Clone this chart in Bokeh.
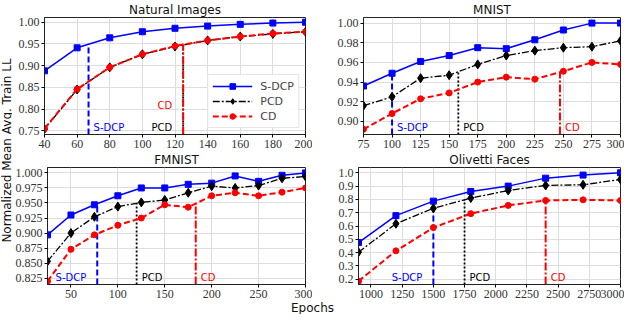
import numpy as np
from bokeh.plotting import figure
from bokeh.models import Range1d, FixedTicker, PrintfTickFormatter, Label, ColumnDataSource
from bokeh.layouts import row, column
from bokeh.embed import file_html
from bokeh.resources import INLINE
from bokeh.core.properties import value

methods = ["S-DCP", "PCD", "CD"]

# ---------------- data ----------------
nat_epochs = [40, 60, 80, 100, 120, 140, 160, 180, 200]
nat_sdcp = [0.888, 0.941, 0.964, 0.978, 0.986, 0.991, 0.995, 0.998, 1.000]
nat_pcd = [0.754, 0.845, 0.896, 0.926, 0.944, 0.958, 0.967, 0.973, 0.978]
nat_cd = [0.755, 0.846, 0.896, 0.926, 0.945, 0.958, 0.967, 0.974, 0.978]
nat_conv = [67, 125, 125]

mnist_epochs = [75, 100, 125, 150, 175, 200, 225, 250, 275, 300]
mnist_sdcp = [0.936, 0.949, 0.961, 0.967, 0.975, 0.974, 0.983, 0.993, 1.000, 1.000]
mnist_pcd = [0.916, 0.925, 0.944, 0.947, 0.958, 0.967, 0.972, 0.975, 0.976, 0.982]
mnist_cd = [0.892, 0.908, 0.923, 0.929, 0.940, 0.945, 0.943, 0.951, 0.960, 0.958]
mnist_conv = [100, 158, 247]

fmnist_epochs = [25, 50, 75, 100, 125, 150, 175, 200, 225, 250, 275, 300]
fmnist_sdcp = [0.897, 0.930, 0.947, 0.962, 0.975, 0.975, 0.981, 0.983, 0.995, 0.986, 0.996, 1.000]
fmnist_pcd = [0.853, 0.900, 0.927, 0.944, 0.951, 0.955, 0.967, 0.978, 0.975, 0.979, 0.991, 0.994]
fmnist_cd = [0.820, 0.873, 0.897, 0.913, 0.925, 0.947, 0.943, 0.962, 0.967, 0.962, 0.968, 0.975]
fmnist_conv = [78, 120, 183]

oli_epochs = [900, 1200, 1500, 1800, 2100, 2400, 2700, 3000]
oli_sdcp = [0.475, 0.678, 0.787, 0.860, 0.900, 0.960, 0.983, 1.000]
oli_pcd = [0.403, 0.617, 0.733, 0.810, 0.867, 0.905, 0.910, 0.950]
oli_cd = [0.185, 0.413, 0.588, 0.693, 0.755, 0.792, 0.797, 0.792]
oli_conv = [1500, 1750, 2400]

nat_xticks = [40, 60, 80, 100, 120, 140, 160, 180, 200]
nat_yticks = [0.75, 0.80, 0.85, 0.90, 0.95, 1.00]
mnist_xticks = [75, 100, 125, 150, 175, 200, 225, 250, 275, 300]
mnist_yticks = [0.90, 0.92, 0.94, 0.96, 0.98, 1.00]
fmnist_xticks = [50, 100, 150, 200, 250, 300]
fmnist_yticks = [0.825, 0.850, 0.875, 0.900, 0.925, 0.950, 0.975, 1.000]
oli_xticks = [1000, 1250, 1500, 1750, 2000, 2250, 2500, 2750, 3000]
oli_yticks = [0.2, 0.3, 0.4, 0.5, 0.6, 0.7, 0.8, 0.9, 1.0]

# ---------------- styles ----------------
STYLE = {
    "S-DCP": dict(color="#0000ff", dash="solid", marker="square", msize=6, width=1.5,
                  vdash="6 3", vwidth=2.0),
    "PCD": dict(color="#000000", dash="7 2 2 2", marker="diamond", msize=9, width=1.3,
                vdash="2 2", vwidth=1.8),
    "CD": dict(color="#ff0000", dash="6 3", marker="circle", msize=6, width=2.0,
               vdash="8 2 2 2", vwidth=2.0),
}
TICK_FONT = "Liberation Serif"
SANS = "DejaVu Sans"


def panel(title, epochs, series, conv, xr, yr, xticks, yticks, xfmt, yfmt, width,
          mbl, mbr, sides, dys, legend=False):
    p = figure(width=width, height=150, x_range=Range1d(*xr), y_range=Range1d(*yr),
               output_backend="svg", toolbar_location=None, title=title,
               min_border_left=mbl, min_border_right=mbr, min_border_top=14,
               min_border_bottom=16)
    p.title.text_font = SANS
    p.title.text_font_size = "12px"
    p.title.text_font_style = "normal"
    p.title.align = "center"
    p.title.standoff = 1
    p.title.text_color = "#111111"
    p.outline_line_color = "#222222"
    p.outline_line_width = 1
    p.grid.grid_line_color = "#dddddd"
    p.grid.grid_line_width = 1
    for ax, ticks, fmt in ((p.xaxis, xticks, xfmt), (p.yaxis, yticks, yfmt)):
        ax.ticker = FixedTicker(ticks=ticks)
        ax.formatter = PrintfTickFormatter(format=fmt)
        ax.major_label_text_font = TICK_FONT
        ax.major_label_text_font_size = "12px"
        ax.major_label_text_color = "#333333"
        ax.major_tick_out = 3
        ax.major_tick_in = 0
        ax.minor_tick_line_color = None
        ax.major_label_standoff = 2
        ax.axis_line_color = "#222222"

    tops = [float(np.interp(c, epochs, s)) for c, s in zip(conv, series)]
    for m, c, t in zip(methods, conv, tops):
        st = STYLE[m]
        p.segment(x0=[c], y0=[yr[0]], x1=[c], y1=[t], line_color=st["color"],
                  line_width=st["vwidth"], line_dash=st["vdash"])

    for m, s in zip(methods, series):
        st = STYLE[m]
        kw = dict(legend_label=m) if legend else {}
        p.line(epochs, s, line_color=st["color"], line_width=st["width"],
               line_dash=st["dash"], **kw)
        p.scatter(epochs, s, marker=st["marker"], size=st["msize"], fill_color=st["color"],
                  line_color=st["color"], **kw)

    for m, c, side, dy in zip(methods, conv, sides, dys):
        st = STYLE[m]
        src = ColumnDataSource(dict(x=[c], y=[yr[0]], t=[m]))
        p.text(x="x", y="y", text="t", source=src, text_color=st["color"],
               text_font=value(SANS), text_font_size="10px",
               text_align="left" if side > 0 else "right", text_baseline="bottom",
               x_offset=5 if side > 0 else -11, y_offset=-2 - dy)

    if legend:
        lg = p.legend[0]
        lg.location = "bottom_right"
        lg.label_text_font = SANS
        lg.label_text_font_size = "11px"
        lg.label_height = 14
        lg.glyph_height = 14
        lg.glyph_width = 40
        lg.spacing = 1
        lg.padding = 4
        lg.margin = 6
        lg.label_standoff = 8
        lg.border_line_color = "#cccccc"
        lg.background_fill_alpha = 0.9
    return p


f1 = panel("Natural Images", nat_epochs, [nat_sdcp, nat_pcd, nat_cd], nat_conv,
           (40, 200), (0.7414, 1.0108), nat_xticks, nat_yticks, "%d", "%.2f",
           300, 32, 7, [1, -1, -1], [0, 0, 22], legend=True)
f2 = panel("MNIST", mnist_epochs, [mnist_sdcp, mnist_pcd, mnist_cd], mnist_conv,
           (75, 300), (0.8867, 1.0057), mnist_xticks, mnist_yticks, "%d", "%.2f",
           312, 51, 4, [1, 1, 1], [0, 0, 0])
f3 = panel("FMNIST", fmnist_epochs, [fmnist_sdcp, fmnist_pcd, fmnist_cd], fmnist_conv,
           (25, 300), (0.8145, 1.009), fmnist_xticks, fmnist_yticks, "%d", "%.3f",
           300, 32, 7, [-1, 1, 1], [0, 0, 0])
f4 = panel("Olivetti Faces", oli_epochs, [oli_sdcp, oli_pcd, oli_cd], oli_conv,
           (900, 3000), (0.16, 1.04), oli_xticks, oli_yticks, "%d", "%.1f",
           312, 46, 4, [-1, 1, 1], [0, 0, 0])


def blank(w, h):
    b = figure(width=w, height=h, x_range=Range1d(0, 1), y_range=Range1d(0, 1),
               output_backend="svg", toolbar_location=None, x_axis_type=None,
               y_axis_type=None, min_border=0)
    b.outline_line_color = None
    b.grid.visible = False
    return b


ylab = blank(12, 300)
ylab.add_layout(Label(x=0.5, y=0.5, text="Normalized Mean Avg. Train LL", angle=np.pi / 2,
                      text_align="center", text_baseline="middle", text_font=SANS,
                      text_font_size="12px", text_color="#111111"))
xlab = blank(624, 14)
xlab.add_layout(Label(x=0.5, y=0.5, text="Epochs", text_align="center",
                      text_baseline="middle", text_font=SANS, text_font_size="12px",
                      text_color="#111111"))

layout = column(row(ylab, column(row(f1, f2), row(f3, f4))), xlab)

open("out.html", "w").write(file_html(layout, INLINE))
